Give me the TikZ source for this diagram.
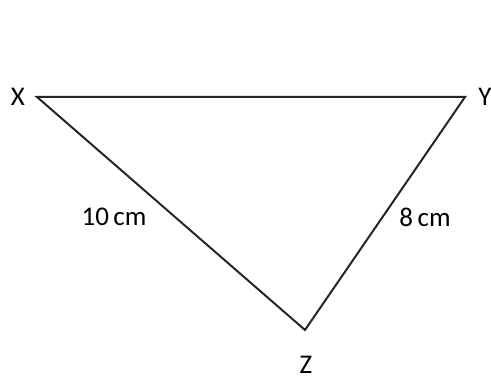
\documentclass[tikz,border=0pt]{standalone}
\usepackage{fontspec}
\setmainfont{Carlito}
\usepackage{tikz}
\usetikzlibrary{positioning, calc}

\begin{document}
\begin{tikzpicture}[x=1pt, y=1pt, font=\fontsize{27}{31}\selectfont,
    side/.style={line width=2pt, black!85, line join=miter}]
    \useasboundingbox (0,0) rectangle (491,387);
    \coordinate (x) at (37,290);
    \coordinate (y) at (465,290);
    \coordinate (z) at (305,57);
    \draw[side] (x) -- (y) -- (z) -- cycle;
    \node (lx) at (18,290) {X};
    \node (ly) at (485,290) {Y};
    \node (lz) at (306,22) {Z};
    \node (a) at (114,170) {10\,cm};
    \node (b) at (425,170) {8\,cm};
\end{tikzpicture}
\end{document}
